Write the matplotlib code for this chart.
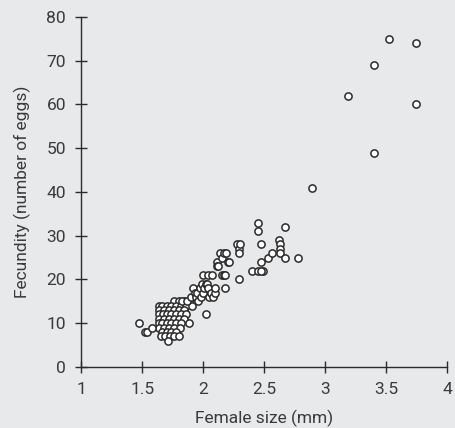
import matplotlib.pyplot as plt

# Female size (mm) and fecundity (number of eggs)
size_mm = [
    # dense cluster
    1.76, 1.80, 1.84, 1.88,
    1.64, 1.66, 1.70, 1.74, 1.78, 1.82, 1.86, 1.91,
    1.64, 1.68, 1.72, 1.76, 1.80, 1.84,
    1.64, 1.67, 1.70, 1.74, 1.78, 1.82, 1.86,
    1.64, 1.68, 1.72, 1.76, 1.80, 1.84,
    1.64, 1.66, 1.70, 1.74, 1.78, 1.82, 1.88,
    1.64, 1.68, 1.72, 1.76, 1.81,
    1.66, 1.70, 1.74, 1.78,
    1.65, 1.69, 1.73, 1.76, 1.80,
    1.71,
    # small females
    1.47, 1.52, 1.54, 1.58,
    # middle band
    1.83, 1.87, 1.90, 1.92, 1.93, 1.94, 1.95, 1.96, 1.97, 1.98,
    1.99, 2.00, 2.00, 2.01, 2.02, 2.02, 2.03, 2.04, 2.04, 2.05,
    2.06, 2.07, 2.08, 2.10, 2.10, 2.11, 2.11, 2.12, 2.14, 2.15,
    2.15, 2.17, 2.17, 2.18, 2.18, 2.19, 2.20, 2.21,
    2.28, 2.29, 2.30, 2.29, 2.29,
    # larger females
    2.40, 2.45, 2.47, 2.47, 2.49, 2.45, 2.45, 2.47, 2.53, 2.56,
    2.62, 2.63, 2.63, 2.63, 2.67, 2.67, 2.78, 2.89,
    3.19, 3.40, 3.40, 3.52, 3.74, 3.74,
]
eggs = [
    15, 15, 15, 15,
    14, 14, 14, 14, 14, 14, 14, 14,
    13, 13, 13, 13, 13, 13,
    12, 12, 12, 12, 12, 12, 12,
    11, 11, 11, 11, 11, 11,
    10, 10, 10, 10, 10, 10, 10,
    9, 9, 9, 9, 9,
    8, 8, 8, 8,
    7, 7, 7, 7, 7,
    6,
    10, 8, 8, 9,
    15, 15, 16, 18, 17, 16, 17, 15, 18, 16,
    19, 17, 21, 18, 12, 19, 19, 21, 18, 16,
    17, 21, 16, 17, 18, 24, 23, 23, 26, 25,
    21, 26, 21, 21, 18, 26, 24, 24,
    28, 27, 28, 26, 20,
    22, 22, 28, 24, 22, 33, 31, 22, 25, 26,
    29, 28, 27, 26, 32, 25, 25, 41,
    62, 69, 49, 75, 74, 60,
]

ink = '#2b2b2b'
txt = '#3a3a3a'
bg = '#e8e9eb'
plt.rcParams['font.family'] = ['Roboto', 'DejaVu Sans']

fig = plt.figure(figsize=(4.56, 4.28), dpi=100, facecolor=bg)
ax = fig.add_axes([0.178, 0.1425, 0.803, 0.818], facecolor=bg)

ax.scatter(size_mm, eggs, s=27, facecolor='white', edgecolor=ink,
           linewidth=1.1, zorder=3, clip_on=False)

ax.set_xlim(1, 4)
ax.set_ylim(0, 80)
ax.set_xticks([1, 1.5, 2, 2.5, 3, 3.5, 4])
ax.set_xticklabels(['1', '1.5', '2', '2.5', '3', '3.5', '4'])
ax.set_yticks(range(0, 81, 10))

for side in ['top', 'right']:
    ax.spines[side].set_visible(False)
for side in ['left', 'bottom']:
    ax.spines[side].set_color(ink)
    ax.spines[side].set_linewidth(1.0)

ax.tick_params(direction='inout', length=8, width=1.0, color=ink,
               labelcolor=txt, labelsize=12.5, pad=7)

ax.set_xlabel('Female size (mm)', fontsize=12.5, color=txt, labelpad=9)
ax.set_ylabel('Fecundity (number of eggs)', fontsize=12.5, color=txt, labelpad=11)

fig.savefig('out.png', dpi=100, facecolor=bg)
